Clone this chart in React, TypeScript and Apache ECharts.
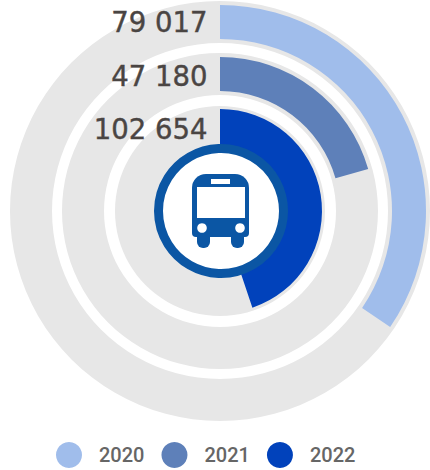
import React, { useEffect, useRef } from "react";
import * as echarts from "echarts";

const years = ["2020", "2021", "2022"];
const values = [79017, 47180, 102654];
const labels = ["79 017", "47 180", "102 654"];
const colors = ["#A0BDEB", "#5E80B9", "#0142BB"];
const trackRadii = [[168, 210], [116, 158], [0, 105]];
const barRadii = [[172, 206], [120, 154], [60, 102]];
const labelY = [22, 76, 129];

const CX = 220;
const CY = 211;
const BUS = "#0B56A4";

export default function App() {
  const ref = useRef<HTMLDivElement>(null);
  useEffect(() => {
    const chart = echarts.init(ref.current!, undefined, { renderer: "svg" });
    const total = values.reduce((a, b) => a + b, 0);
    const tracks = trackRadii.map((r) => ({
      type: "pie",
      silent: true,
      center: [CX, CY],
      radius: r,
      z: 1,
      label: { show: false },
      labelLine: { show: false },
      data: [{ name: "track", value: 1, itemStyle: { color: "#E7E7E7" } }],
    }));
    const bars = years.map((y, i) => ({
      type: "pie",
      name: y,
      silent: true,
      center: [CX, CY],
      radius: barRadii[i],
      startAngle: 90,
      clockwise: true,
      z: 2,
      label: { show: false },
      labelLine: { show: false },
      data: [
        { name: y, value: values[i], itemStyle: { color: colors[i] } },
        { name: "rest", value: total - values[i], itemStyle: { color: "rgba(0,0,0,0)" } },
      ],
    }));
    chart.setOption({
      animation: false,
      color: colors,
      legend: {
        data: years,
        left: 51,
        top: 437,
        icon: "circle",
        itemWidth: 26,
        itemHeight: 26,
        itemGap: 17,
        selectedMode: false,
        textStyle: { color: "#666666", fontFamily: "Roboto", fontSize: 20, fontWeight: 500, padding: [0, 0, 0, 12] },
      },
      series: [...tracks, ...bars],
      graphic: [
        ...labels.map((t, i) => ({
          type: "text",
          z: 100,
          x: 207.5,
          y: labelY[i],
          style: {
            text: t,
            fill: "#4A4543",
            stroke: "#4A4543",
            lineWidth: 0.4,
            font: '27.5px "DejaVu Sans"',
            textAlign: "right",
            textVerticalAlign: "middle",
          },
        })),
        { type: "circle", z: 100, shape: { cx: 221, cy: 211, r: 62.5 }, style: { fill: "#FFFFFF", stroke: BUS, lineWidth: 9 } },
        { type: "rect", z: 101, shape: { x: 192, y: 174, width: 57, height: 63, r: [14, 14, 4, 4] }, style: { fill: BUS } },
        { type: "rect", z: 101, shape: { x: 197, y: 226, width: 13, height: 22, r: 6 }, style: { fill: BUS } },
        { type: "rect", z: 101, shape: { x: 231, y: 226, width: 13, height: 22, r: 6 }, style: { fill: BUS } },
        { type: "rect", z: 102, shape: { x: 197, y: 187, width: 48, height: 31 }, style: { fill: "#FFFFFF" } },
        { type: "rect", z: 102, shape: { x: 211, y: 179, width: 19, height: 5 }, style: { fill: "#FFFFFF" } },
        { type: "circle", z: 102, shape: { cx: 202, cy: 228, r: 4.8 }, style: { fill: "#FFFFFF" } },
        { type: "circle", z: 102, shape: { cx: 240, cy: 228, r: 4.8 }, style: { fill: "#FFFFFF" } },
      ],
    });
    return () => chart.dispose();
  }, []);
  return <div ref={ref} style={{ position: "absolute", left: 0, top: 0, width: 430, height: 470 }} />;
}
